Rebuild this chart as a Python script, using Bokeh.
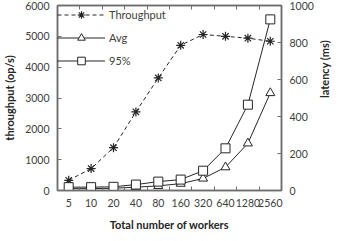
from bokeh.plotting import figure
from bokeh.models import Range1d, LinearAxis, FixedTicker, Legend, LegendItem
from bokeh.embed import file_html
from bokeh.resources import INLINE
import math

workers = ["5", "10", "20", "40", "80", "160", "320", "640", "1280", "2560"]
throughput = [330, 710, 1390, 2550, 3650, 4710, 5060, 5000, 4940, 4840]
lat_avg = [10, 10, 12, 18, 25, 37, 65, 126, 255, 527]
lat_95 = [18, 18, 20, 32, 48, 59, 107, 228, 464, 925]
tp_ticks = [0, 1000, 2000, 3000, 4000, 5000, 6000]
lat_ticks = [0, 200, 400, 600, 800, 1000]

idx = list(range(len(workers)))
bounds = [i + 0.5 for i in idx[:-1]]

FONT = "Lato"
TXT = "#404040"
AX = "#6e6e6e"
LN = "#262626"

p = figure(width=340, height=233, output_backend="svg", toolbar_location=None,
           x_range=Range1d(-0.5, len(workers) - 0.5), y_range=Range1d(0, 6000),
           min_border_left=57, min_border_right=56, min_border_top=5, min_border_bottom=10,
           x_axis_location=None, y_axis_location=None)
p.extra_y_ranges = {"lat": Range1d(0, 1000)}
p.grid.visible = False
p.background_fill_color = None
p.border_fill_color = None
p.outline_line_color = AX
p.outline_line_width = 1.5

def style(ax):
    ax.axis_line_color = AX
    ax.axis_line_width = 1.5
    ax.major_tick_line_color = AX
    ax.minor_tick_line_color = AX
    ax.major_label_text_font = FONT
    ax.major_label_text_font_size = "10.5px"
    ax.major_label_text_color = TXT
    ax.axis_label_text_font = FONT
    ax.axis_label_text_font_size = "11px"
    ax.axis_label_text_font_style = "bold"
    ax.axis_label_text_color = "#262626"

xticker = FixedTicker(ticks=idx, minor_ticks=bounds)
xb = LinearAxis(ticker=xticker, axis_label="Total number of workers")
xb.major_label_overrides = {i: w for i, w in zip(idx, workers)}
style(xb)
xb.major_tick_in = 0
xb.major_tick_out = 0
xb.minor_tick_in = 4
xb.minor_tick_out = 0
xb.major_label_standoff = 8
xb.axis_label_standoff = 8
p.add_layout(xb, "below")

xt = LinearAxis(ticker=xticker)
style(xt)
xt.major_tick_in = 0
xt.major_tick_out = 0
xt.minor_tick_in = 4
xt.minor_tick_out = 0
xt.major_label_text_alpha = 0
xt.major_label_text_font_size = "1px"
xt.major_label_standoff = 0
p.add_layout(xt, "above")

yl = LinearAxis(ticker=FixedTicker(ticks=tp_ticks), axis_label="throughput (op/s)")
style(yl)
yl.major_tick_in = 4
yl.major_tick_out = 0
yl.minor_tick_in = 0
yl.minor_tick_out = 0
yl.major_label_standoff = 8
yl.axis_label_standoff = 6
p.add_layout(yl, "left")

yr = LinearAxis(y_range_name="lat", ticker=FixedTicker(ticks=lat_ticks), axis_label="latency (ms)")
style(yr)
yr.major_tick_in = 4
yr.major_tick_out = 0
yr.minor_tick_in = 0
yr.minor_tick_out = 0
yr.major_label_standoff = 8
yr.axis_label_standoff = 8
yr.axis_label_orientation = math.pi / 2
p.add_layout(yr, "right")

r_tp_l = p.line(idx, throughput, line_color=LN, line_width=1, line_dash="4 3")
r_tp_m = p.scatter(idx, throughput, marker="asterisk", size=9, line_color=LN, line_width=1.2)
r_av_l = p.line(idx, lat_avg, y_range_name="lat", line_color=LN, line_width=1)
r_av_m = p.scatter(idx, lat_avg, y_range_name="lat", marker="triangle", size=9,
                   line_color=LN, fill_color="white", line_width=1)
r_95_l = p.line(idx, lat_95, y_range_name="lat", line_color=LN, line_width=1)
r_95_m = p.scatter(idx, lat_95, y_range_name="lat", marker="square", size=9,
                   line_color=LN, fill_color="white", line_width=1)

legend = Legend(items=[
    LegendItem(label="Throughput", renderers=[r_tp_l, r_tp_m]),
    LegendItem(label="Avg", renderers=[r_av_l, r_av_m]),
    LegendItem(label="95%", renderers=[r_95_l, r_95_m]),
], location="top_left")
legend.border_line_color = None
legend.background_fill_alpha = 0
legend.margin = 0
legend.padding = 4
legend.spacing = 4
legend.glyph_width = 48
legend.glyph_height = 19
legend.label_height = 19
legend.label_standoff = 4
legend.label_text_font = FONT
legend.label_text_font_size = "11px"
legend.label_text_color = TXT
p.add_layout(legend)

open("out.html", "w").write(file_html(p, INLINE))
